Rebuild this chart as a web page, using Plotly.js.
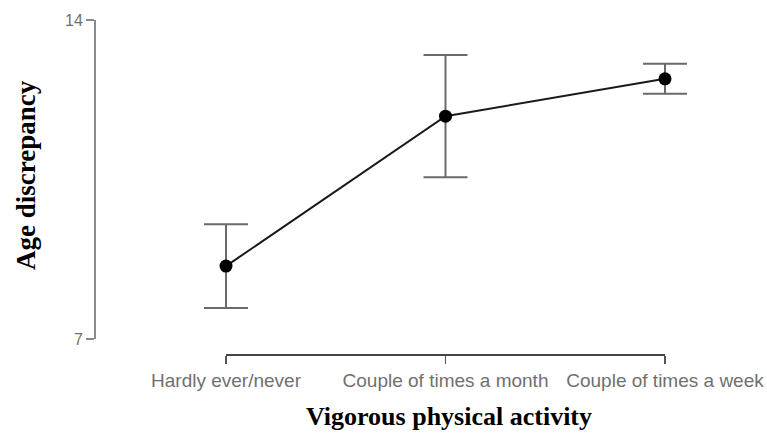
<!DOCTYPE html>
<html><head><meta charset="utf-8">
<script src="https://cdn.plot.ly/plotly-3.0.1.min.js"></script>
<style>html,body{margin:0;padding:0;background:#fff}#chart{width:767px;height:443px}</style>
</head><body><div id="chart"></div>
<script>
// ---- data ----
const categories = ["Hardly ever/never", "Couple of times a month", "Couple of times a week"];
const means = [8.60, 11.89, 12.71];
const errors = [0.92, 1.34, 0.33];
const yTickVals = [7, 14];
const yTickText = ["7", "14"];
const xTitle = "Vigorous physical activity";
const yTitle = "Age discrepancy";

// ---- layout constants ----
const W = 767, H = 443, L = 95, R = 67, T = 20, B = 88;
const pw = W - L - R, ph = H - T - B;
const px2x = v => (v - L) / pw;
const px2y = v => (H - B - v) / ph;
// category 0 sits at 226px, last category at 665px
const firstPx = 226, lastPx = 665, domStartPx = 200;
const unitPx = (lastPx - firstPx) / (categories.length - 1);
const xRange = [-(firstPx - domStartPx) / unitPx, (categories.length - 1) + (W - R - lastPx) / unitPx];

const trace = {
  type: "scatter", mode: "lines+markers",
  x: categories, y: means,
  line: {color: "#1a1a1a", width: 2},
  marker: {color: "#000", size: 13},
  error_y: {type: "data", array: errors, visible: true, color: "#6a6a6a", thickness: 2, width: 22},
  cliponaxis: false, hoverinfo: "skip", showlegend: false
};

const layout = {
  width: W, height: H,
  margin: {l: L, r: R, t: T, b: B, pad: 0},
  paper_bgcolor: "#fff", plot_bgcolor: "#fff",
  showlegend: false,
  xaxis: {
    type: "category", categoryorder: "array", categoryarray: categories,
    range: xRange, domain: [px2x(domStartPx), 1],
    anchor: "free", position: 0,
    showline: false,
    ticks: "outside", ticklen: 8, tickwidth: 1.5, tickcolor: "#555",
    showgrid: false, zeroline: false,
    tickfont: {family: "Liberation Sans, Arial, sans-serif", size: 19, color: "#707070"}
  },
  yaxis: {
    range: [7, 14], domain: [px2y(339), 1],
    anchor: "free", position: 0,
    tickvals: yTickVals, ticktext: yTickText,
    showline: true, linecolor: "#8a8a8a", linewidth: 2,
    ticks: "outside", ticklen: 8, tickwidth: 1.5, tickcolor: "#8a8a8a",
    showgrid: false, zeroline: false,
    tickfont: {family: "Liberation Sans, Arial, sans-serif", size: 16, color: "#707070"}
  },
  shapes: [
    {type: "line", xref: "x", yref: "paper",
     x0: categories[0], x1: categories[categories.length - 1], y0: 0, y1: 0,
     line: {color: "#444", width: 2}}
  ],
  annotations: [
    {text: "<b>" + xTitle + "</b>", xref: "paper", yref: "paper",
     x: px2x(449), y: px2y(417), xanchor: "center", yanchor: "middle", showarrow: false,
     font: {family: "Liberation Serif, Times New Roman, serif", size: 26, color: "#000"}},
    {text: "<b>" + yTitle + "</b>", xref: "paper", yref: "paper", textangle: -90,
     x: px2x(26), y: px2y(175), xanchor: "center", yanchor: "middle", showarrow: false,
     font: {family: "Liberation Serif, Times New Roman, serif", size: 27, color: "#000"}}
  ]
};

Plotly.newPlot("chart", [trace], layout, {displayModeBar: false, staticPlot: true});
</script>
</body></html>
